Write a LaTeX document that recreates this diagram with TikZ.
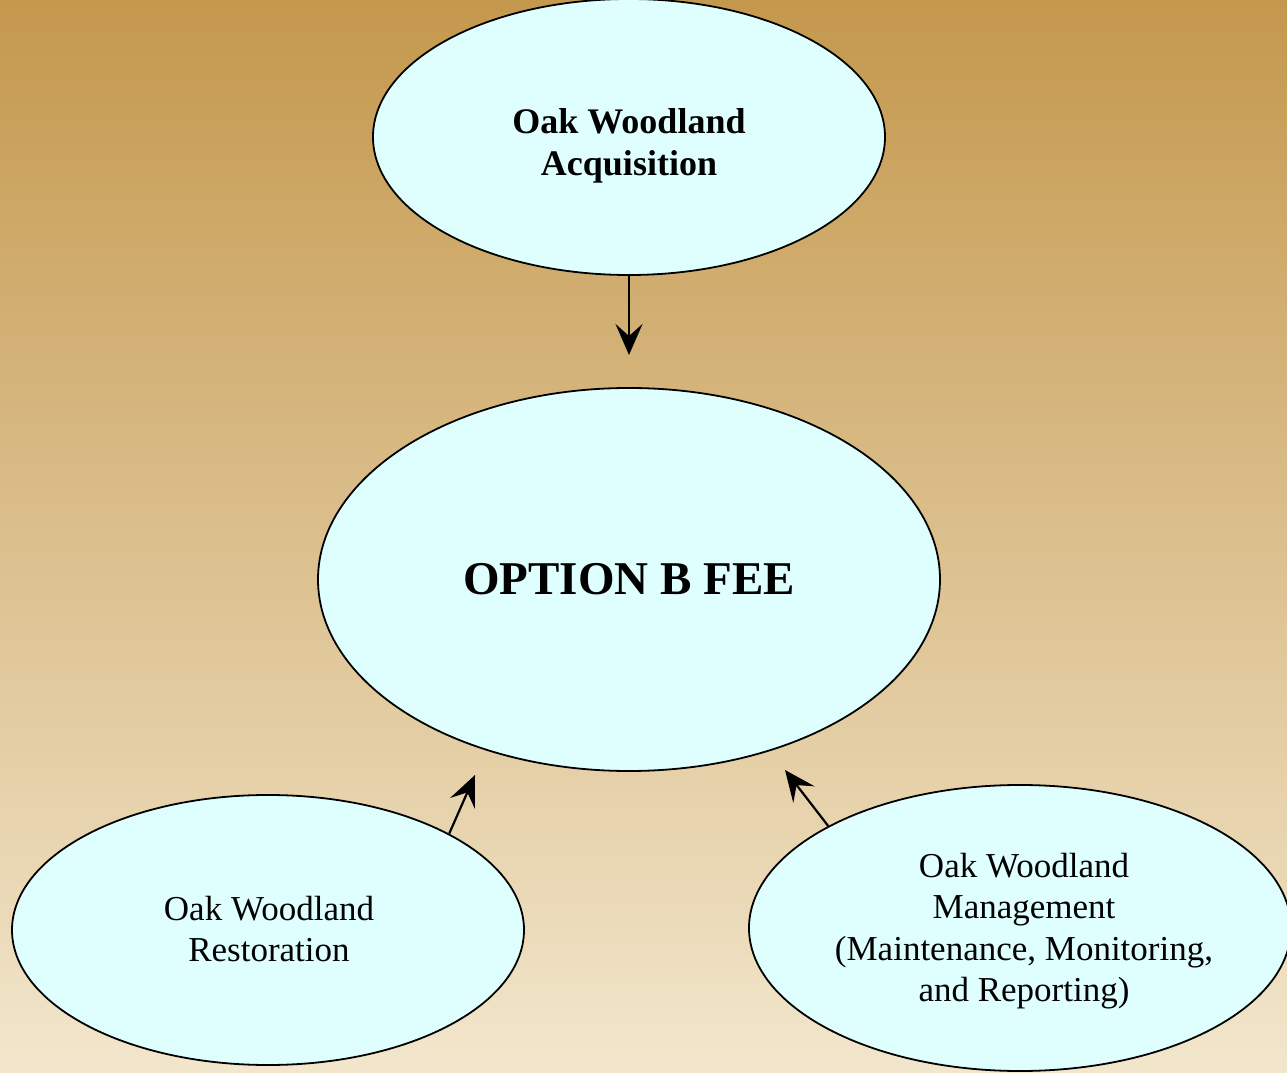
\documentclass[tikz,border=0pt]{standalone}
\usepackage{fontspec}
\setmainfont{Liberation Serif}
\usetikzlibrary{shapes.geometric,arrows.meta}
\definecolor{bgtop}{HTML}{C4984D}
\definecolor{bgbot}{HTML}{F2E6CC}
\definecolor{ellfill}{HTML}{DFFFFF}
\begin{document}
\begin{tikzpicture}[x=1pt,y=1pt,
  oval/.style={ellipse, draw=black, line width=1.8pt, fill=ellfill, inner sep=0pt},
  txt/.style={align=center, inner sep=0pt},
  lbl/.style={txt, font=\fontsize{35}{41.5}\selectfont},
  boldlbl/.style={txt, font=\fontsize{36}{42}\selectfont\bfseries},
  conn/.style={line width=2.2pt, -{Stealth[length=31pt, width=27pt, inset=12pt]}}]
\useasboundingbox (0,0) rectangle (1287,1072);
\clip (0,0) rectangle (1287,1072);
\shade[top color=bgtop, bottom color=bgbot] (0,0) rectangle (1287,1072);
\node[oval, minimum width=512pt, minimum height=276pt] (acq) at (629,935) {};
\node[boldlbl] (acqt) at (629,926) {Oak Woodland\\Acquisition};
\node[oval, minimum width=622pt, minimum height=383pt] (fee) at (629,492.5) {};
\node[txt, font=\fontsize{47}{54}\selectfont\bfseries] (feet) at (629,492.5) {OPTION B FEE};
\node[oval, minimum width=512pt, minimum height=270pt] (rest) at (268,142) {};
\node[lbl] (restt) at (269,143) {Oak Woodland\\Restoration};
\node[oval, minimum width=542pt, minimum height=286pt] (mgmt) at (1020,144) {};
\node[lbl] (mgmtt) at (1024,141) {Oak Woodland\\Management\\(Maintenance, Monitoring,\\and Reporting)};
\coordinate (tipA) at (629,717);
\coordinate (tipR) at (475,297);
\coordinate (tipM) at (785,302);
\draw[conn] (acq.south) -- (tipA);
\draw[conn] (rest.28) -- (tipR);
\draw[conn] (mgmt.152) -- (tipM);
\end{tikzpicture}
\end{document}
